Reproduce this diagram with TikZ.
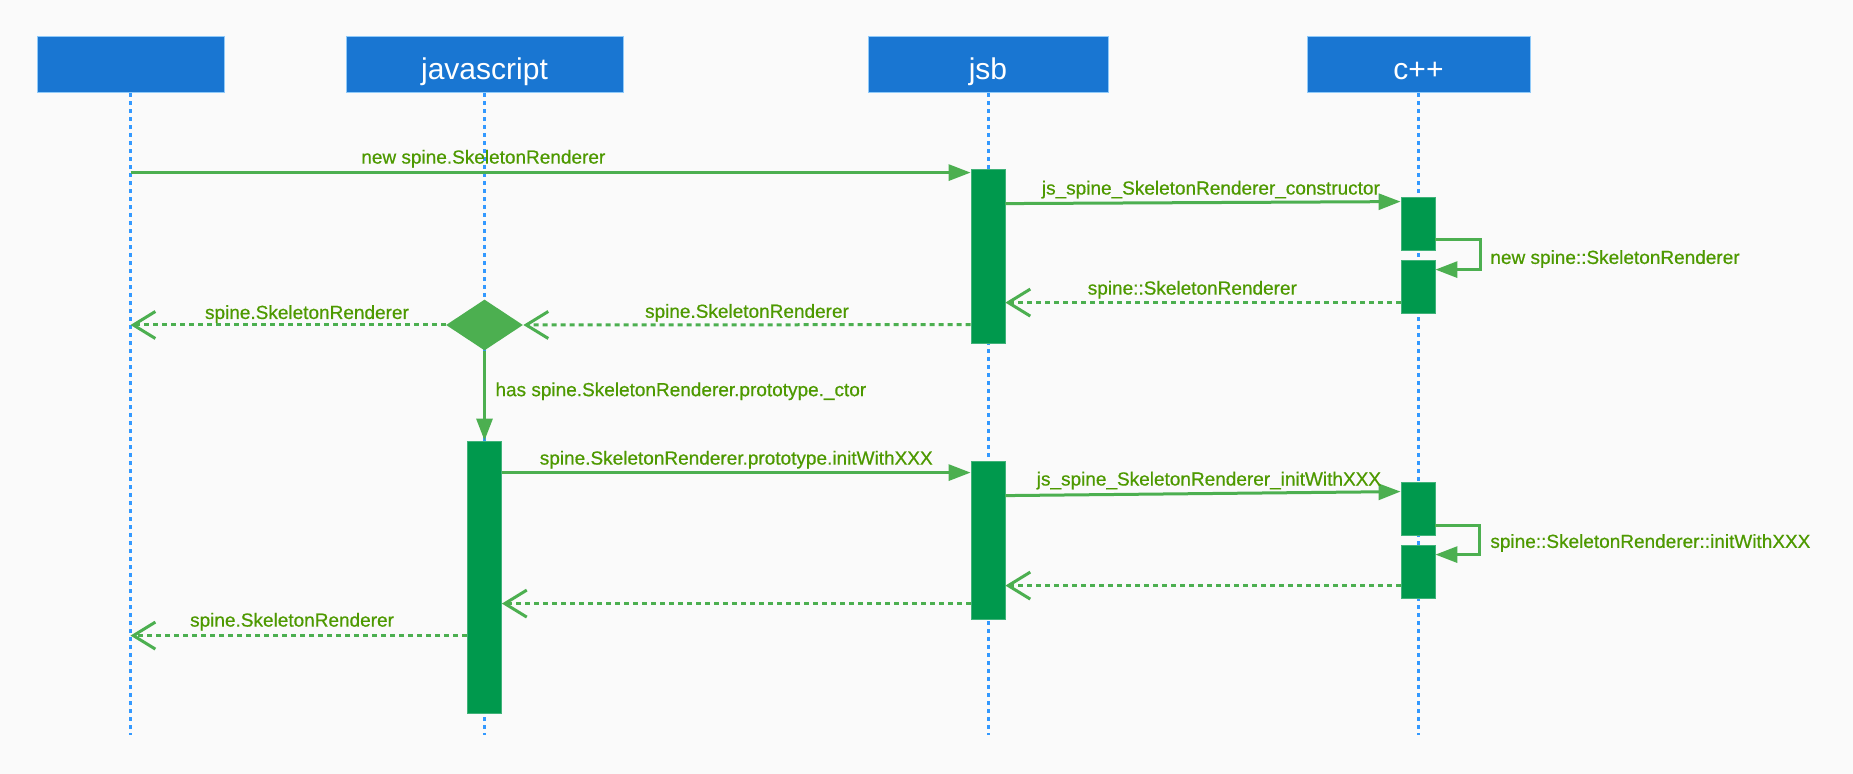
\documentclass[tikz,border=0pt]{standalone}
\usepackage{fontspec}
\setmainfont{Liberation Sans}
\newfontfamily\lblfont[FakeBold=0.6]{Liberation Sans}
\usetikzlibrary{arrows.meta,shapes.geometric}
\definecolor{hdrfill}{RGB}{25,118,210}
\definecolor{hdrline}{RGB}{144,202,249}
\definecolor{lifec}{RGB}{51,153,255}
\definecolor{arrc}{RGB}{76,175,80}
\definecolor{actc}{RGB}{0,153,77}
\definecolor{lblc}{RGB}{77,153,0}
\definecolor{bgc}{RGB}{250,250,250}
\begin{document}
\begin{tikzpicture}[x=0.5pt,y=-0.5pt,
 hdr/.style={rectangle, fill=hdrfill, draw=hdrline, line width=0.5pt, inner sep=0pt,
   minimum height=28pt, text=white, font=\fontsize{15}{18}\selectfont, text height=15pt, text depth=0pt},
 life/.style={draw=lifec, line width=1.5pt, dash pattern=on 2pt off 2pt},
 act/.style={rectangle, fill=actc, draw=actc!75!white, line width=0.4pt, inner sep=0pt, minimum width=17pt},
 msg/.style={draw=arrc, line width=1.5pt, -{Triangle[length=11pt,width=8pt]}},
 ret/.style={draw=arrc, line width=1.5pt, dash pattern=on 2.5pt off 2pt, -{Straight Barb[length=11pt,width=13.5pt]}},
 lbl/.style={text=lblc, font=\lblfont\fontsize{9.5}{11}\selectfont, inner sep=0pt},
 decision/.style={diamond, fill=arrc, inner sep=0pt, minimum width=38.5pt, minimum height=25.5pt},
]
\fill[bgc] (0,0) rectangle (1853,774);
\useasboundingbox (0,0) rectangle (1853,774);

% headers
\node[hdr, minimum width=93.5pt] (b0) at (130.5,65) {};
\node[hdr, minimum width=138.5pt] (bjs) at (484.5,65) {javascript};
\node[hdr, minimum width=120pt] (bjsb) at (988,65) {jsb};
\node[hdr, minimum width=111.5pt] (bcpp) at (1418.5,65) {c++};
\coordinate (bot) at (0,735);

% lifelines
\draw[life] (b0.south) -- (b0.south |- bot);
\draw[life] (bjs.south) -- (bjs.south |- bot);
\draw[life] (bjsb.south) -- (bjsb.south |- bot);
\draw[life] (bcpp.south) -- (bcpp.south |- bot);

% decision
\node[decision] (dec) at (484.5,325) {};

% activations
\node[act, minimum height=87pt] (jsb1) at (988,256) {};
\node[act, minimum height=26.5pt] (cpp1) at (1418,223.5) {};
\node[act, minimum height=26.5pt] (cpp2) at (1418,286.5) {};
\node[act, minimum height=136pt] (js1) at (484.5,577) {};
\node[act, minimum height=79pt] (jsb2) at (988,540) {};
\node[act, minimum height=26.5pt] (cpp3) at (1418,508.5) {};
\node[act, minimum height=26.5pt] (cpp4) at (1418,571.5) {};

% message anchors
\coordinate (m1e) at ([yshift=-2pt]jsb1.north west);
\coordinate (m2s) at ([yshift=-17.5pt]jsb1.north east);
\coordinate (m2e) at ([yshift=-2.5pt]cpp1.north west);
\coordinate (m3s) at ([yshift=-21.5pt]cpp1.north east);
\coordinate (m3e) at ([yshift=-5pt]cpp2.north east);
\coordinate (m4s) at ([yshift=-21.5pt]cpp2.north west);
\coordinate (m5s) at ([yshift=-78pt]jsb1.north west);
\coordinate (m8s) at ([yshift=-16pt]js1.north east);
\coordinate (m9s) at ([yshift=-17.5pt]jsb2.north east);
\coordinate (m9e) at ([yshift=-5pt]cpp3.north west);
\coordinate (m10s) at ([yshift=-22pt]cpp3.north east);
\coordinate (m10e) at ([yshift=-5pt]cpp4.north east);
\coordinate (m11s) at ([yshift=-20.5pt]cpp4.north west);
\coordinate (m12s) at ([yshift=-71.5pt]jsb2.north west);
\coordinate (m13s) at ([yshift=-97.5pt]js1.north west);

% messages
\draw[msg] (m1e -| b0) -- node[lbl, pos=0.42, anchor=base, yshift=4.5pt] {new spine.SkeletonRenderer} (m1e);
\draw[msg] (m2s) -- node[lbl, pos=0.52, anchor=base, yshift=4pt] {js\_spine\_SkeletonRenderer\_constructor} (m2e);
\draw[msg] (m3s) -- ++(45,0) |- (m3e);
\node[lbl, anchor=west] (l3) at (1490,259) {new spine::SkeletonRenderer};
\draw[ret] (m4s) -- node[lbl, pos=0.527, anchor=base, yshift=4pt] {spine::SkeletonRenderer} (m4s -| jsb1.east);
\draw[ret] (m5s) -- node[lbl, pos=0.5, anchor=base, yshift=3.5pt] {spine.SkeletonRenderer} (dec.east);
\draw[ret] (dec.west) -- node[lbl, pos=0.44, anchor=base, yshift=3pt] {spine.SkeletonRenderer} (dec.west -| b0);
\draw[msg] (dec.south) -- node[lbl, pos=0.45, anchor=west, xshift=4.75pt] {has spine.SkeletonRenderer.prototype.\_ctor} (js1.north);
\draw[msg] (m8s) -- node[lbl, pos=0.5, anchor=base, yshift=4pt] {spine.SkeletonRenderer.prototype.initWithXXX} (m8s -| jsb2.west);
\draw[msg] (m9s) -- node[lbl, pos=0.515, anchor=base, yshift=4pt] {js\_spine\_SkeletonRenderer\_initWithXXX} (m9e);
\draw[msg] (m10s) -- ++(44,0) |- (m10e);
\node[lbl, anchor=west] (l10) at (1490,543) {spine::SkeletonRenderer::initWithXXX};
\draw[ret] (m11s) -- (m11s -| jsb2.east);
\draw[ret] (m12s) -- (m12s -| js1.east);
\draw[ret] (m13s) -- node[lbl, pos=0.52, anchor=base, yshift=4.5pt] {spine.SkeletonRenderer} (m13s -| b0);
\end{tikzpicture}
\end{document}
